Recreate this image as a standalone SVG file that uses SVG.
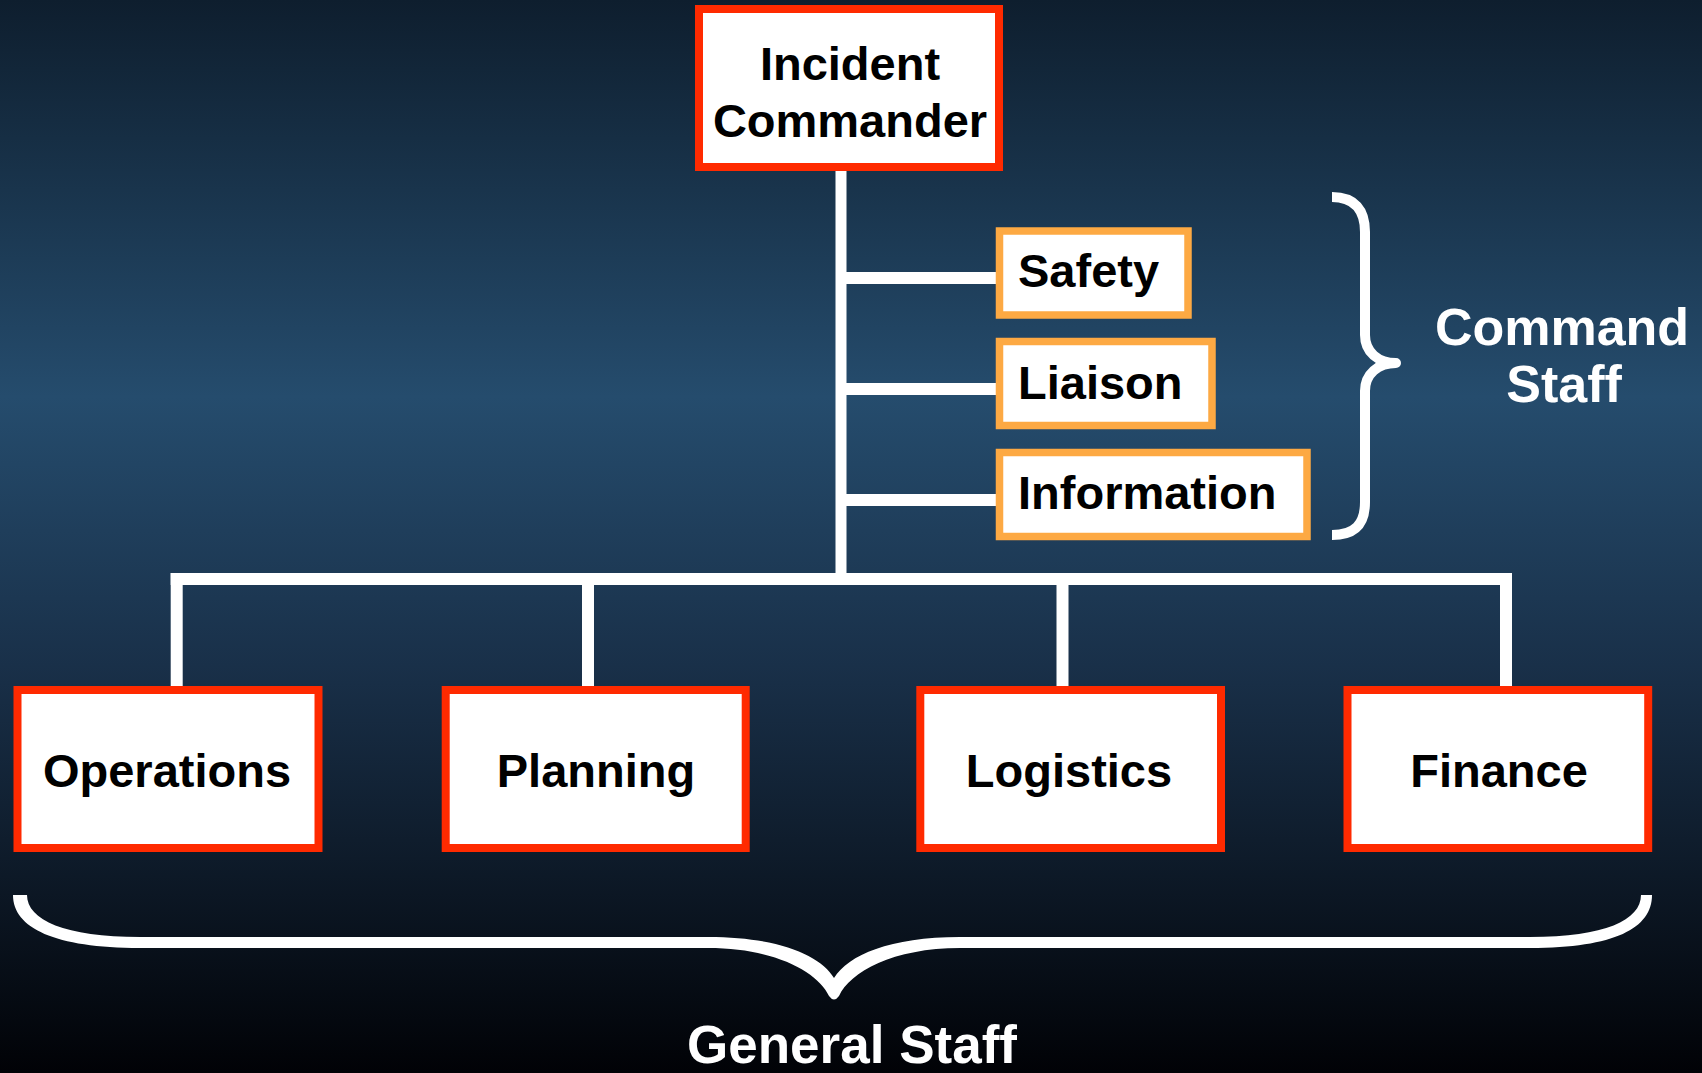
<svg xmlns="http://www.w3.org/2000/svg" width="1702" height="1073" viewBox="0 0 1702 1073">
  <defs>
    <linearGradient id="bg" x1="0" y1="0" x2="0" y2="1">
      <stop offset="0" stop-color="#0e1e2e"/>
      <stop offset="0.37" stop-color="#254c6d"/>
      <stop offset="0.62" stop-color="#193049"/>
      <stop offset="0.8" stop-color="#0e1b2a"/>
      <stop offset="1" stop-color="#010206"/>
    </linearGradient>
  </defs>
  <style>
    .main rect { fill: #ffffff; stroke: #ff2a00; stroke-width: 8; }
    .cmd rect { fill: #ffffff; stroke: #fda943; stroke-width: 7.5; }
    .lbl { font-family: "Liberation Sans", Arial, sans-serif; font-weight: bold; font-size: 47px; fill: #000000; }
    .wlbl { font-family: "Liberation Sans", Arial, sans-serif; font-weight: bold; fill: #ffffff; text-anchor: middle; }
    .mid { text-anchor: middle; }
    .conn line { stroke: #ffffff; stroke-width: 12; }
  </style>
  <rect x="0" y="0" width="1702" height="1073" fill="url(#bg)"/>

  <g id="connectors" class="conn">
    <line x1="841" y1="171" x2="841" y2="585" style="stroke-width:11"/>
    <line x1="846" y1="278" x2="997" y2="278"/>
    <line x1="846" y1="389" x2="997" y2="389"/>
    <line x1="846" y1="500" x2="997" y2="500"/>
    <line x1="170.7" y1="579" x2="1512" y2="579"/>
    <line x1="176.7" y1="573" x2="176.7" y2="687"/>
    <line x1="588" y1="573" x2="588" y2="687"/>
    <line x1="1062.5" y1="573" x2="1062.5" y2="687"/>
    <line x1="1506" y1="573" x2="1506" y2="687"/>
  </g>

  <g id="incident-commander" class="main">
    <rect x="699" y="9" width="300" height="158"/>
    <text class="lbl mid" x="850" y="80">Incident</text>
    <text class="lbl mid" x="850" y="136.7">Commander</text>
  </g>

  <g id="safety" class="cmd">
    <rect x="999.5" y="231" width="188.5" height="84"/>
    <text class="lbl" x="1018" y="287">Safety</text>
  </g>
  <g id="liaison" class="cmd">
    <rect x="999.5" y="341.5" width="212.5" height="84"/>
    <text class="lbl" x="1018" y="398.5">Liaison</text>
  </g>
  <g id="information" class="cmd">
    <rect x="999.5" y="452.5" width="307.5" height="84"/>
    <text class="lbl" x="1018" y="508.5">Information</text>
  </g>

  <g id="operations" class="main">
    <rect x="17.5" y="690" width="301" height="158"/>
    <text class="lbl mid" x="167" y="787">Operations</text>
  </g>
  <g id="planning" class="main">
    <rect x="445.7" y="690" width="300" height="158"/>
    <text class="lbl mid" x="596" y="787">Planning</text>
  </g>
  <g id="logistics" class="main">
    <rect x="920.3" y="690" width="300.7" height="158"/>
    <text class="lbl mid" x="1069" y="787">Logistics</text>
  </g>
  <g id="finance" class="main">
    <rect x="1347.5" y="690" width="300.7" height="158"/>
    <text class="lbl mid" x="1499" y="787">Finance</text>
  </g>

  <g id="command-staff">
    <path d="M1332,197 C1355,197 1365,210 1365,232 L1365,335 C1365,352 1378,363 1396,363 C1378,363 1365,374 1365,391 L1365,502 C1365,524 1355,535 1332,535" fill="none" stroke="#ffffff" stroke-width="10" stroke-linejoin="round"/>
    <text class="wlbl" x="1562" y="345" font-size="52">Command</text>
    <text class="wlbl" x="1564" y="402" font-size="52">Staff</text>
  </g>

  <g id="general-staff">
    <path d="M13,895 C13,928 55,948 140,948 L708,948 C775,948 818,972 829,996 Q834,1003 839,996 C850,972 893,948 960,948 L1530,948 C1615,948 1652,928 1652,895 L1641,895 C1641,920 1605,937 1530,937 L960,937 C890,937 848,955 834,978 C820,955 778,937 708,937 L140,937 C65,937 27,920 27,895 Z" fill="#ffffff"/>
    <text class="wlbl" x="852" y="1063" font-size="53">General Staff</text>
  </g>
</svg>
